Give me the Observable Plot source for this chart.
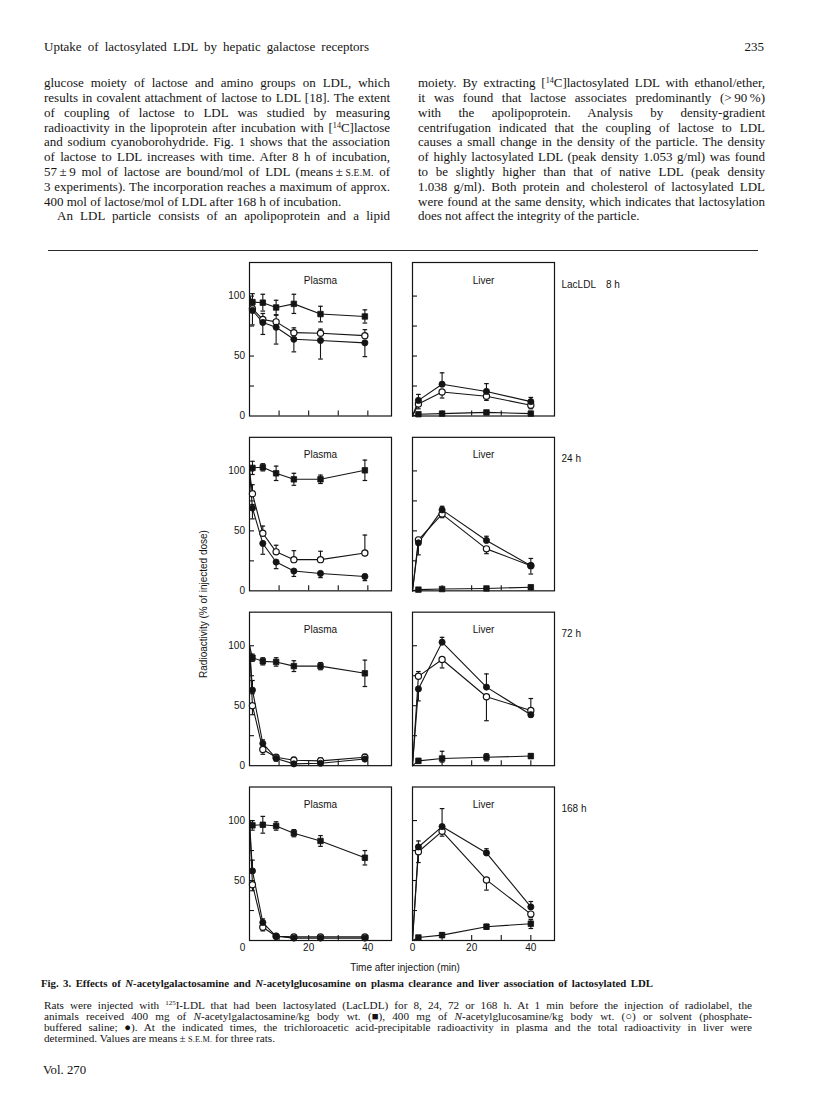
<!DOCTYPE html>
<html><head><meta charset="utf-8">
<script src="https://cdn.jsdelivr.net/npm/d3@7"></script>
<script src="https://cdn.jsdelivr.net/npm/@observablehq/plot@0.6"></script>
<style>
html,body{margin:0;padding:0;background:#fff;}
body{width:816px;height:1093px;position:relative;overflow:hidden;color:#141414;}
.serif{font-family:"Liberation Serif","Times New Roman",serif;}
.sans{font-family:"Liberation Sans",Arial,Helvetica,sans-serif;}
.abs{position:absolute;white-space:nowrap;line-height:1;}
.jl{position:absolute;white-space:nowrap;line-height:1;}
.jl>span{display:inline-block;transform-origin:0 50%;}
sup{font-size:62%;vertical-align:0;position:relative;top:-0.5em;line-height:0;}
.sc{font-size:74%;letter-spacing:0.02em;}
#chart{position:absolute;left:195px;top:252px;}
#rule{position:absolute;left:48px;top:249.5px;width:710px;height:1px;background:#2a2a2a;}
</style></head><body>
<div id="rule"></div>
<div id="chart"></div>
<script>
// ---------------- chart data ----------------
const tissues = ["Plasma", "Liver"];
const lacLabels = ["LacLDL\u20038 h", "24 h", "72 h", "168 h"];
const treatments = ["GalNAc", "GlcNAc", "Solvent"]; // ■ ○ ●
const plasmaMinutes = [1, 4.5, 9, 15, 24, 39];
const liverMinutes = [2, 10, 25, 40];
const plasmaStart = 100;   // lines start at 100 % at time 0
const liverStart = 0;      // lines start at 0 % at time 0
const yTickLabels = [50, 100];
const yTicks = [25, 50, 75, 100];
const xTicks = [10, 20, 30, 40];
const xTickLabels = [20, 40];

// Plasma (% of injected dose), rows = LacLDL 8, 24, 72, 168 h
const plasmaGalNAc = [
  [95, 94.5, 90.5, 93.5, 85, 83],
  [102.5, 103, 98, 93, 93, 100.5],
  [90, 87, 86.5, 83, 83, 77],
  [96, 96.5, 95.5, 89.5, 83, 69]
];
const plasmaGalNAcErr = [ // [down, up]
  [[7,7],[7,7],[6,6],[8,8],[6.5,6.5],[5.5,5.5]],
  [[5.5,5.5],[3,3],[6,6],[5,5],[3.5,3.5],[8.5,8.5]],
  [[3,3],[3,3],[3.5,3.5],[4.5,4.5],[3,3],[11,11]],
  [[4,4],[7,7],[3.5,3.5],[3,3],[4.5,4.5],[6,6]]
];
const plasmaGlcNAc = [
  [89.5, 80.5, 78.5, 69.5, 69, 67],
  [81, 48, 32.5, 26, 26, 31.5],
  [50, 13.5, 7, 4.5, 4, 7],
  [46.5, 11, 3.5, 3, 3, 3]
];
const plasmaGlcNAcErr = [
  [[0,3],[0,5],[0,5.5],[0,4],[0,3.5],[0,5]],
  [[0,7.5],[0,6],[0,5.5],[0,7.5],[0,7],[0,15]],
  [[7.5,0],[4,0],[0,2],[0,2.5],[0,2.5],[0,2.5]],
  [[5,0],[3,0],[0,1.5],[0,1.5],[0,1.5],[0,1.5]]
];
const plasmaSolvent = [
  [88, 78, 74, 64, 63, 61],
  [69, 39.5, 24, 16.5, 14.5, 12],
  [63, 18.5, 6, 1.5, 2, 5.5],
  [58, 15, 3.5, 2, 2, 2]
];
const plasmaSolventErr = [
  [[12,0],[10,0],[14,0],[10.5,0],[15.5,0],[11.5,0]],
  [[9,3],[9,0],[5.5,0],[4.5,0],[3.5,0],[3.5,0]],
  [[3,8],[3,3],[2,2],[1,1],[1,1],[1,1]],
  [[0,9],[3,3],[0,0],[0,0],[0,0],[0,0]]
];
// Liver (% of injected dose)
const liverGalNAc = [
  [1.5, 2, 3, 2],
  [1, 1.5, 2, 3],
  [4, 6, 7, 8],
  [2.5, 4.5, 11.5, 14]
];
const liverGalNAcErr = [
  [[1,1],[1,1],[1,1],[1,1]],
  [[1,1],[1,1],[1,1],[1.5,1.5]],
  [[2,2],[3,6],[3,3],[2,2]],
  [[1,1],[2,2],[2,2],[4,3.5]]
];
const liverGlcNAc = [
  [10, 20, 16.5, 9],
  [42.5, 64, 35, 21],
  [74.5, 88.5, 57.5, 46],
  [74, 91, 50.5, 22]
];
const liverGlcNAcErr = [
  [[4,0],[5,0],[3.5,0],[3,0]],
  [[0,2],[3,0],[4,0],[7,0]],
  [[0,4],[7,0],[20,0],[0,10]],
  [[9,0],[4,0],[8.5,0],[3,0]]
];
const liverSolvent = [
  [13, 26.5, 20.5, 12],
  [40, 67.5, 42, 21],
  [64, 103, 65.5, 42.5],
  [78, 95, 73, 28]
];
const liverSolventErr = [
  [[0,5],[0,9.5],[0,6.5],[0,3.5]],
  [[10,0],[0,3],[0,3.5],[0,6]],
  [[10,0],[0,4],[0,11],[2,0]],
  [[0,5],[0,15],[0,3.5],[0,4.5]]
];

// ---------------- build tables ----------------
const seriesDefs = [
  {tissue: "Plasma", treatment: "GalNAc", t: plasmaMinutes, start: plasmaStart, v: plasmaGalNAc, e: plasmaGalNAcErr},
  {tissue: "Plasma", treatment: "GlcNAc", t: plasmaMinutes, start: plasmaStart, v: plasmaGlcNAc, e: plasmaGlcNAcErr},
  {tissue: "Plasma", treatment: "Solvent", t: plasmaMinutes, start: plasmaStart, v: plasmaSolvent, e: plasmaSolventErr},
  {tissue: "Liver", treatment: "GalNAc", t: liverMinutes, start: liverStart, v: liverGalNAc, e: liverGalNAcErr},
  {tissue: "Liver", treatment: "GlcNAc", t: liverMinutes, start: liverStart, v: liverGlcNAc, e: liverGlcNAcErr},
  {tissue: "Liver", treatment: "Solvent", t: liverMinutes, start: liverStart, v: liverSolvent, e: liverSolventErr}
];
const points = [], linePts = [];
for (const s of seriesDefs) {
  s.v.forEach((vals, li) => {
    const lac = lacLabels[li];
    const key = s.tissue + "|" + lac + "|" + s.treatment;
    linePts.push({tissue: s.tissue, lac, treatment: s.treatment, t: 0, v: s.start, key});
    vals.forEach((v, i) => {
      const [dn, up] = s.e[li][i];
      const p = {tissue: s.tissue, lac, treatment: s.treatment, t: s.t[i], v, lo: v - dn, hi: v + up, hasLo: dn > 0, hasHi: up > 0, key};
      points.push(p); linePts.push(p);
    });
  });
}
const panels = tissues.flatMap(tissue => lacLabels.map(lac => ({tissue, lac})));

const capSymbol = {draw(ctx, size) { const w = Math.sqrt(size / Math.PI); ctx.moveTo(-w, 0); ctx.lineTo(w, 0); }};
const ink = "#141414";
const F = {fx: "tissue", fy: "lac"};

const chart = Plot.plot({
  width: 440, height: 708,
  marginLeft: 54, marginRight: 81, marginTop: 10, marginBottom: 20,
  style: {fontFamily: "'Liberation Sans', Arial, sans-serif", fontSize: "10px", color: ink, background: "transparent"},
  x: {domain: [0, 48], label: null},
  y: {domain: [0, 128], label: null},
  fx: {domain: tissues, paddingInner: 21 / 163, paddingOuter: 0, round: false, axis: null, label: null},
  fy: {domain: lacLabels, paddingInner: 0.122, paddingOuter: 0, round: false, axis: null, label: null},
  marks: [
    Plot.frame({stroke: ink, strokeWidth: 1.2}),
    Plot.axisY({ticks: yTicks, tickSize: -5, tickFormat: () => "", facetAnchor: null, stroke: ink, strokeWidth: 1.1}),
    Plot.axisX({ticks: xTicks, tickSize: -5, tickFormat: () => "", facetAnchor: null, stroke: ink, strokeWidth: 1.1}),
    Plot.axisY({ticks: yTickLabels, tickSize: 0, tickPadding: 4.5, fill: ink}),
    Plot.text(lacLabels.slice(0, 3), {fx: () => "Plasma", fy: d => d, x: () => 0, y: () => 0, text: () => "0", textAnchor: "end", dx: -4.5, fill: ink}),
    Plot.axisX({ticks: xTickLabels, tickSize: 0, tickPadding: 3, fill: ink}),
    Plot.text(["Plasma"], {fx: d => d, fy: () => lacLabels[3], x: () => 0, y: () => 0, text: () => "0", lineAnchor: "top", dx: -7, dy: 3, fill: ink}),
    Plot.text(["Liver"], {fx: d => d, fy: () => lacLabels[3], x: () => 0, y: () => 0, text: () => "0", lineAnchor: "top", dy: 3, fill: ink}),
    Plot.text(panels, {...F, text: "tissue", frameAnchor: "top", dy: 14, fill: ink}),
    Plot.text(lacLabels, {fx: () => "Liver", fy: d => d, text: d => d, frameAnchor: "top-right", textAnchor: "start", dx: 7, dy: 18, fill: ink}),
    Plot.line(linePts, {...F, x: "t", y: "v", z: "key", stroke: ink, strokeWidth: 1.1}),
    Plot.ruleX(points, {...F, x: "t", y1: "lo", y2: "hi", stroke: ink, strokeWidth: 1.1}),
    Plot.dot(points.filter(d => d.hasHi), {...F, x: "t", y: "hi", symbol: capSymbol, r: 2.3, fill: "none", stroke: ink, strokeWidth: 1.2}),
    Plot.dot(points.filter(d => d.hasLo), {...F, x: "t", y: "lo", symbol: capSymbol, r: 2.3, fill: "none", stroke: ink, strokeWidth: 1.2}),
    Plot.dot(points.filter(d => d.treatment === "GalNAc"), {...F, x: "t", y: "v", symbol: "square", r: 3.1, fill: ink, stroke: ink, strokeWidth: 0.8}),
    Plot.dot(points.filter(d => d.treatment === "GlcNAc"), {...F, x: "t", y: "v", symbol: "circle", r: 3.1, fill: "white", stroke: ink, strokeWidth: 1.2}),
    Plot.dot(points.filter(d => d.treatment === "Solvent"), {...F, x: "t", y: "v", symbol: "circle", r: 3.1, fill: ink, stroke: ink, strokeWidth: 0.8})
  ]
});
document.getElementById("chart").appendChild(chart);

// ---------------- page text ----------------
function fit(d, W, justify) {
  const s = d.firstChild;
  const w = s.getBoundingClientRect().width;
  if (w > W) s.style.transform = `scaleX(${W / w})`;
  else if (justify) {
    const n = (s.textContent.match(/ /g) || []).length;
    if (n) d.style.wordSpacing = ((W - w) / n) + "px";
  }
}
function addLine(html, {left, width, yc, size, cls, justify = true, weight = "normal"}) {
  const d = document.createElement("div");
  d.className = "jl " + cls;
  d.style.left = left + "px";
  d.style.width = width + "px";
  d.style.top = (yc - 0.62 * size) + "px";
  d.style.fontSize = size + "px";
  d.style.fontWeight = weight;
  d.innerHTML = "<span>" + html + "</span>";
  document.body.appendChild(d);
  fit(d, width, justify);
  return d;
}
function addBlock(lines, {left, width, y0, dy, size, cls, noJustify = [], indent = {}}) {
  lines.forEach((html, i) => {
    const ind = indent[i] || 0;
    addLine(html, {left: left + ind, width: width - ind, yc: y0 + i * dy, size, cls, justify: !noJustify.includes(i)});
  });
}

addLine("Uptake of lactosylated LDL by hepatic galactose receptors", {left: 44, width: 325, yc: 48, size: 13, cls: "serif"});
const pn = addLine("235", {left: 740, width: 24, yc: 48, size: 13, cls: "serif", justify: false});
pn.style.textAlign = "right";

const col1 = [
  "glucose moiety of lactose and amino groups on LDL, which",
  "results in covalent attachment of lactose to LDL [18]. The extent",
  "of coupling of lactose to LDL was studied by measuring",
  "radioactivity in the lipoprotein after incubation with [<sup>14</sup>C]lactose",
  "and sodium cyanoborohydride. Fig. 1 shows that the association",
  "of lactose to LDL increases with time. After 8 h of incubation,",
  "57&thinsp;±&thinsp;9 mol of lactose are bound/mol of LDL (means&thinsp;±&thinsp;<span class='sc'>S.E.M.</span> of",
  "3 experiments). The incorporation reaches a maximum of approx.",
  "400 mol of lactose/mol of LDL after 168 h of incubation.",
  "An LDL particle consists of an apolipoprotein and a lipid"
];
const col2 = [
  "moiety. By extracting [<sup>14</sup>C]lactosylated LDL with ethanol/ether,",
  "it was found that lactose associates predominantly (&gt;&thinsp;90&thinsp;%)",
  "with the apolipoprotein. Analysis by density-gradient",
  "centrifugation indicated that the coupling of lactose to LDL",
  "causes a small change in the density of the particle. The density",
  "of highly lactosylated LDL (peak density 1.053 g/ml) was found",
  "to be slightly higher than that of native LDL (peak density",
  "1.038 g/ml). Both protein and cholesterol of lactosylated LDL",
  "were found at the same density, which indicates that lactosylation",
  "does not affect the integrity of the particle."
];
addBlock(col1, {left: 44, width: 346, y0: 84.3, dy: 14.8, size: 13, cls: "serif", noJustify: [8], indent: {9: 13}});
addBlock(col2, {left: 418, width: 347, y0: 84.3, dy: 14.8, size: 13, cls: "serif", noJustify: [9]});

addLine("Fig. 3. Effects of <i>N</i>-acetylgalactosamine and <i>N</i>-acetylglucosamine on plasma clearance and liver association of lactosylated LDL",
  {left: 41, width: 612, yc: 985, size: 10.8, cls: "serif", weight: "bold"});
const cap = [
  "Rats were injected with <sup>125</sup>I-LDL that had been lactosylated (LacLDL) for 8, 24, 72 or 168 h. At 1 min before the injection of radiolabel, the",
  "animals received 400 mg of <i>N</i>-acetylgalactosamine/kg body wt. (■), 400 mg of <i>N</i>-acetylglucosamine/kg body wt. (○) or solvent (phosphate-",
  "buffered saline; ●). At the indicated times, the trichloroacetic acid-precipitable radioactivity in plasma and the total radioactivity in liver were",
  "determined. Values are means&thinsp;±&thinsp;<span class='sc'>S.E.M.</span> for three rats."
];
addBlock(cap, {left: 44, width: 708, y0: 1006.5, dy: 11.2, size: 11.2, cls: "serif", noJustify: [3]});
addLine("Vol. 270", {left: 43, width: 46, yc: 1072, size: 12.8, cls: "serif", justify: false});
</script>
<div class="abs sans" style="left:204px;top:604px;transform:translate(-50%,-50%) rotate(-90deg);font-size:10px;">Radioactivity (% of injected dose)</div>
<div class="abs sans" style="left:405px;top:968px;transform:translate(-50%,-50%);font-size:10px;">Time after injection (min)</div>
</body></html>
